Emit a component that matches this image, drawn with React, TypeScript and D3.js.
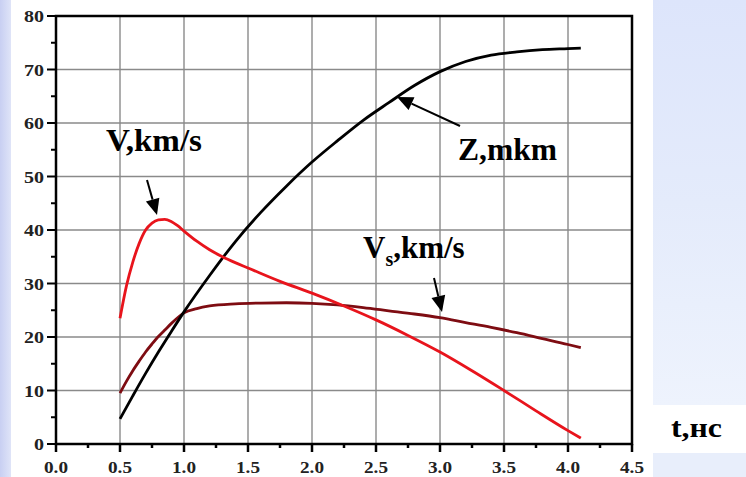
import React from "react";
import * as d3 from "d3";

const xTicks = [0, 0.5, 1, 1.5, 2, 2.5, 3, 3.5, 4, 4.5];
const xTickLabels = ["0.0", "0.5", "1.0", "1.5", "2.0", "2.5", "3.0", "3.5", "4.0", "4.5"];
const yTicks = [0, 10, 20, 30, 40, 50, 60, 70, 80];
const xMinor = [0.25, 0.75, 1.25, 1.75, 2.25, 2.75, 3.25, 3.75, 4.25];
const yMinor = [5, 15, 25, 35, 45, 55, 65, 75];

const zT = [0.5, 0.6, 0.7, 0.8, 0.9, 1.0, 1.2, 1.4, 1.6, 1.8, 2.0, 2.2, 2.4, 2.6, 2.8, 3.0, 3.2, 3.4, 3.6, 3.8, 4.0, 4.1];
const zV = [4.7, 9, 13.2, 17.2, 21, 24.7, 31.5, 37.8, 43.3, 48.2, 52.7, 56.7, 60.5, 63.8, 67, 69.6, 71.5, 72.7, 73.3, 73.7, 73.9, 74.0];

const vT = [0.5, 0.55, 0.6, 0.65, 0.7, 0.75, 0.8, 0.85, 0.9, 0.95, 1.0, 1.1, 1.2, 1.3, 1.4, 1.5, 1.75, 2.0, 2.25, 2.5, 2.75, 3.0, 3.25, 3.5, 3.75, 4.0, 4.1];
const vV = [23.5, 29.5, 34.0, 37.5, 40.0, 41.3, 41.9, 42.0, 41.6, 40.8, 39.8, 37.9, 36.3, 35.0, 33.9, 32.9, 30.4, 28.2, 25.8, 23.2, 20.3, 17.2, 13.7, 10.0, 6.2, 2.5, 1.1];

const vsT = [0.5, 0.55, 0.6, 0.65, 0.7, 0.75, 0.8, 0.85, 0.9, 0.95, 1.0, 1.1, 1.2, 1.4, 1.6, 1.8, 2.0, 2.2, 2.4, 2.6, 2.8, 3.0, 3.2, 3.4, 3.6, 3.8, 4.0, 4.1];
const vsV = [9.5, 11.7, 13.7, 15.5, 17.2, 18.7, 20.1, 21.3, 22.5, 23.6, 24.5, 25.3, 25.8, 26.2, 26.35, 26.4, 26.3, 26.0, 25.5, 24.9, 24.3, 23.6, 22.7, 21.8, 20.8, 19.7, 18.6, 18.0];

const FONT = "'Liberation Serif', 'Times New Roman', 'DejaVu Serif', serif";

export default function App() {
  React.useEffect(() => {
    document.body.style.margin = "0";
  }, []);

  const W = 746, H = 477;
  const x = d3.scaleLinear().domain([0, 4.5]).range([56, 632]);
  const y = d3.scaleLinear().domain([0, 80]).range([444, 16]);

  const mk = (ts: number[], vs: number[]) =>
    d3.line<number>().x((_, i) => x(ts[i])).y((v) => y(v)).curve(d3.curveMonotoneX)(vs) || "";

  const arrow = (x1: number, y1: number, x2: number, y2: number, len = 16, wid = 7) => {
    const a = Math.atan2(y2 - y1, x2 - x1);
    const bx = x2 - len * Math.cos(a), by = y2 - len * Math.sin(a);
    const px = -Math.sin(a) * wid, py = Math.cos(a) * wid;
    return (
      <g>
        <line x1={x1} y1={y1} x2={bx} y2={by} stroke="#000" strokeWidth={2} />
        <polygon points={`${x2},${y2} ${bx + px},${by + py} ${bx - px},${by - py}`} fill="#000" />
      </g>
    );
  };

  const tst = { fontFamily: FONT, fontWeight: 700 as const };

  return (
    <svg width={W} height={H} style={{ position: "absolute", left: 0, top: 0 }}>
      <defs>
        <linearGradient id="rbg" x1="0" y1="0" x2="0" y2="1">
          <stop offset="0" stopColor="#dde5fb" />
          <stop offset="0.5" stopColor="#e4ebfb" />
          <stop offset="1" stopColor="#eef3fd" />
        </linearGradient>
        <linearGradient id="lbg" x1="0" y1="0" x2="1" y2="0">
          <stop offset="0" stopColor="#c8cff2" />
          <stop offset="1" stopColor="#dfe4f8" />
        </linearGradient>
      </defs>
      <rect x={0} y={0} width={W} height={H} fill="#ffffff" />
      <rect x={0} y={0} width={11} height={H} fill="url(#lbg)" />
      <rect x={653} y={0} width={93} height={405} fill="url(#rbg)" />
      <rect x={653} y={453} width={93} height={24} fill="#e8eefb" />

      {/* grid */}
      {xTicks.slice(1, -1).map((t) => (
        <line key={"gx" + t} x1={x(t)} x2={x(t)} y1={y(80)} y2={y(0)} stroke="#8a8a8a" strokeWidth={1.4} />
      ))}
      {yTicks.slice(1, -1).map((v) => (
        <line key={"gy" + v} x1={x(0)} x2={x(4.5)} y1={y(v)} y2={y(v)} stroke="#8a8a8a" strokeWidth={1.4} />
      ))}

      {/* frame */}
      <rect x={x(0)} y={y(80)} width={x(4.5) - x(0)} height={y(0) - y(80)} fill="none" stroke="#000" strokeWidth={2.5} />

      {/* ticks */}
      {yTicks.map((v) => (
        <line key={"ty" + v} x1={x(0) - 9} x2={x(0)} y1={y(v)} y2={y(v)} stroke="#000" strokeWidth={2} />
      ))}
      {yMinor.map((v) => (
        <line key={"tym" + v} x1={x(0) - 5} x2={x(0)} y1={y(v)} y2={y(v)} stroke="#000" strokeWidth={2} />
      ))}
      {xTicks.map((t) => (
        <line key={"tx" + t} x1={x(t)} x2={x(t)} y1={y(0)} y2={y(0) + 8} stroke="#000" strokeWidth={2.5} />
      ))}
      {xMinor.map((t) => (
        <line key={"txm" + t} x1={x(t)} x2={x(t)} y1={y(0)} y2={y(0) + 4} stroke="#000" strokeWidth={2.5} />
      ))}

      {/* tick labels */}
      {yTicks.map((v) => {
        const s = String(v);
        const w = s.length * 10;
        return (
          <text key={"ly" + v} x={44 - w} y={y(v) + 6} fontSize={17} style={tst} fill="#222"
            textLength={w} lengthAdjust="spacingAndGlyphs">
            {s}
          </text>
        );
      })}
      {xTicks.map((t, i) => (
        <text key={"lx" + t} x={x(t) - 12} y={473} fontSize={17} style={tst} fill="#222"
          textLength={24} lengthAdjust="spacingAndGlyphs">
          {xTickLabels[i]}
        </text>
      ))}

      {/* series */}
      <path d={mk(vsT, vsV)} fill="none" stroke="#7e0c12" strokeWidth={2.8} />
      <path d={mk(zT, zV)} fill="none" stroke="#000" strokeWidth={2.8} />
      <path d={mk(vT, vV)} fill="none" stroke="#e8141c" strokeWidth={2.8} />

      {/* annotations */}
      <text x={106} y={151} fontSize={31} style={tst} fill="#000" textLength={96} lengthAdjust="spacingAndGlyphs">V,km/s</text>
      {arrow(147, 180, 157, 215)}
      <text x={458} y={160} fontSize={31} style={tst} fill="#000" textLength={99} lengthAdjust="spacingAndGlyphs">Z,mkm</text>
      {arrow(460, 126, 397, 97)}
      <text x={363} y={258} fontSize={31} style={tst} fill="#000">
        V<tspan fontSize={20} dy={8}>s</tspan><tspan dy={-8}>,km/s</tspan>
      </text>
      {arrow(434, 278, 442, 312)}
      <text x={671} y={437} fontSize={28} style={tst} fill="#000" textLength={51} lengthAdjust="spacingAndGlyphs">t,нс</text>
    </svg>
  );
}
